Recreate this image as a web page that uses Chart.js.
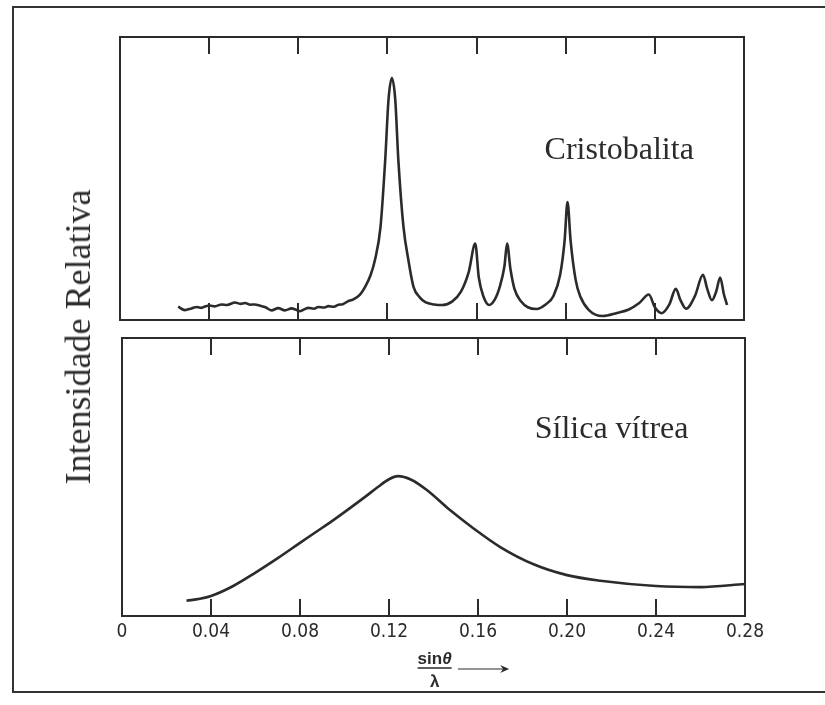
<!DOCTYPE html>
<html>
<head>
<meta charset="utf-8">
<script src="https://cdn.jsdelivr.net/npm/chart.js@4.4.1/dist/chart.umd.min.js"></script>
<style>
    html, body { margin: 0; padding: 0; background: #fff; }
    #page { position: relative; width: 825px; height: 705px; overflow: hidden; background: #fff; }
    #frame { position: absolute; left: 12px; top: 6px; width: 840px; height: 687px; border: 2px solid #333; box-sizing: border-box; }
    #topBox { position: absolute; left: 0; top: 0; width: 825px; height: 330px; }
    #bottomBox { position: absolute; left: 0; top: 330px; width: 825px; height: 375px; }
    #yTitle {
        position: absolute; left: 78px; top: 337px;
        transform: translate(-50%, -50%) rotate(-90deg);
        font-family: 'Liberation Serif', serif; font-size: 36px; color: #2b2b2b;
        white-space: nowrap;
    }
</style>
</head>
<body>
<div id="page">
    <div id="frame"></div>
    <div id="topBox"><canvas id="topChart" width="825" height="330"></canvas></div>
    <div id="bottomBox"><canvas id="bottomChart" width="825" height="375"></canvas></div>
    <div id="yTitle">Intensidade Relativa</div>
</div>
<script>
    // sin(theta)/lambda positions and relative intensity (0-100 of each panel height)
    const cristX = [0.0261, 0.0291, 0.0321, 0.0345, 0.0366, 0.0385, 0.0403, 0.0425, 0.0456, 0.0480,
        0.0516, 0.0540, 0.0561, 0.0585, 0.0605, 0.0630, 0.0650, 0.0680, 0.0710, 0.0740,
        0.0770, 0.0790, 0.0808, 0.0830, 0.0845, 0.0870, 0.0890, 0.0915, 0.0935, 0.0960,
        0.0980, 0.1000, 0.1020, 0.1047, 0.1077, 0.1100, 0.1125, 0.1144, 0.1169, 0.1190,
        0.1205, 0.1220, 0.1235, 0.1249, 0.1272, 0.1294, 0.1317, 0.1345, 0.1370, 0.1410,
        0.1445, 0.1490, 0.1530, 0.1565, 0.1594, 0.1610, 0.1630, 0.1657, 0.1680, 0.1705,
        0.1725, 0.1737, 0.1752, 0.1770, 0.1800, 0.1830, 0.1869, 0.1910, 0.1945, 0.1975,
        0.1995, 0.2008, 0.2022, 0.2045, 0.2066, 0.2104, 0.2166, 0.2230, 0.2283, 0.2330,
        0.2373, 0.2400, 0.2431, 0.2465, 0.2494, 0.2515, 0.2540, 0.2580, 0.2616, 0.2635,
        0.2656, 0.2675, 0.2693, 0.2710, 0.2724];
    const cristY = [4.7, 3.5, 4.1, 4.6, 4.3, 4.9, 5.1, 4.8, 5.5, 5.3,
        6.2, 5.7, 6.0, 5.4, 5.5, 5.0, 4.6, 3.4, 4.2, 3.4,
        4.1, 3.6, 3.1, 3.9, 4.3, 4.0, 4.6, 4.4, 4.9, 4.7,
        5.4, 5.6, 6.5, 7.3, 9.0, 11.7, 16, 21.2, 32.9, 56.5,
        78, 85.5, 78, 56.5, 32.9, 21.2, 11.7, 8, 6.3, 5.5,
        5.3, 6.5, 10, 17, 27, 15, 8.5, 5.3, 7, 12,
        19, 27, 18, 11, 6.5, 4.5, 3.9, 5.5, 8.5, 16,
        28, 41.7, 28, 14, 8.2, 3.5, 1.4, 2.5, 3.7, 6,
        9, 4.5, 2.4, 5.5, 11, 7, 4, 8.5, 16, 11,
        7, 10, 15, 9, 5.3];

    const vitreaX = [0.029, 0.035, 0.040, 0.050, 0.060, 0.070, 0.080, 0.0875, 0.095, 0.1026,
        0.110, 0.115, 0.120, 0.124, 0.130, 0.137, 0.1474, 0.158, 0.170,
        0.185, 0.200, 0.215, 0.240, 0.260, 0.280];
    const vitreaY = [5.5, 6.2, 7.2, 10.8, 15.6, 20.8, 26.3, 30.4, 34.5, 38.9,
        43.3, 46.4, 49.2, 50.3, 49.0, 45.3, 38.1, 31.5, 24.8,
        18.6, 14.7, 12.7, 10.8, 10.4, 11.5];

    const tickValues = [0, 0.04, 0.08, 0.12, 0.16, 0.20, 0.24, 0.28];
    const tickLabels = ['0', '0.04', '0.08', '0.12', '0.16', '0.20', '0.24', '0.28'];

    const ink = '#2b2b2b';

    const toPoints = (xs, ys) => xs.map((x, i) => ({x: x, y: ys[i]}));

    // box around the plot area plus inward ticks on top and bottom edges
    const panelFrame = {
        id: 'panelFrame',
        afterDraw(chart, args, opts) {
            const {ctx, chartArea} = chart;
            const xs = chart.scales.x;
            ctx.save();
            ctx.strokeStyle = ink;
            ctx.lineWidth = 2;
            ctx.strokeRect(chartArea.left, chartArea.top, chartArea.right - chartArea.left, chartArea.bottom - chartArea.top);
            tickValues.slice(1, -1).forEach(v => {
                const px = Math.round(xs.getPixelForValue(v));
                ctx.beginPath();
                ctx.moveTo(px, chartArea.top);
                ctx.lineTo(px, chartArea.top + 17);
                ctx.moveTo(px, chartArea.bottom);
                ctx.lineTo(px, chartArea.bottom - 17);
                ctx.stroke();
            });
            // sample name
            ctx.fillStyle = ink;
            ctx.font = '32px "Liberation Serif", serif';
            ctx.textBaseline = 'alphabetic';
            ctx.textAlign = 'left';
            ctx.fillText(opts.label, xs.getPixelForValue(opts.labelX), chart.scales.y.getPixelForValue(opts.labelY));

            if (opts.axisTitle) {
                const cx = xs.getPixelForValue(0.1405);
                const base = chartArea.bottom;
                ctx.font = 'bold 17px "Liberation Sans", sans-serif';
                ctx.textAlign = 'left';
                const w1 = ctx.measureText('sin').width;
                ctx.font = 'italic bold 17px "Liberation Sans", sans-serif';
                const w2 = ctx.measureText('θ').width;
                const left = cx - (w1 + w2) / 2;
                ctx.font = 'bold 17px "Liberation Sans", sans-serif';
                ctx.fillText('sin', left, base + 48);
                ctx.font = 'italic bold 17px "Liberation Sans", sans-serif';
                ctx.fillText('θ', left + w1, base + 48);
                ctx.lineWidth = 1.5;
                ctx.beginPath();
                ctx.moveTo(left, base + 52);
                ctx.lineTo(left + w1 + w2, base + 52);
                ctx.stroke();
                ctx.font = 'bold 17px "Liberation Sans", sans-serif';
                ctx.textAlign = 'center';
                ctx.fillText('λ', cx, base + 71);
                // arrow
                const ax0 = xs.getPixelForValue(0.151);
                const ax1 = xs.getPixelForValue(0.174);
                const ay = base + 53;
                ctx.lineWidth = 1.2;
                ctx.beginPath();
                ctx.moveTo(ax0, ay);
                ctx.lineTo(ax1 - 4, ay);
                ctx.stroke();
                ctx.beginPath();
                ctx.moveTo(ax1, ay);
                ctx.lineTo(ax1 - 9, ay - 4);
                ctx.lineTo(ax1 - 6, ay);
                ctx.lineTo(ax1 - 9, ay + 4);
                ctx.closePath();
                ctx.fill();
            }
            ctx.restore();
        }
    };

    function makeChart(canvasId, points, padding, showTicks, pluginOpts) {
        const xScale = {
            type: 'linear',
            min: 0,
            max: 0.28,
            display: showTicks,
            afterBuildTicks: s => { s.ticks = tickValues.map(v => ({value: v})); },
            grid: {display: false, drawTicks: false},
            border: {display: false},
            ticks: {
                padding: 5,
                color: ink,
                maxRotation: 0,
                autoSkip: false,
                font: {family: '"DejaVu Sans Condensed", "Liberation Sans", sans-serif', size: 19},
                callback: (v, i) => tickLabels[i]
            }
        };
        if (showTicks) {
            xScale.afterFit = s => { s.height = 40; };
        }
        return new Chart(document.getElementById(canvasId), {
            type: 'line',
            data: {
                datasets: [{
                    data: points,
                    borderColor: ink,
                    borderWidth: 2.6,
                    pointRadius: 0,
                    fill: false,
                    cubicInterpolationMode: 'monotone'
                }]
            },
            options: {
                responsive: false,
                animation: false,
                events: [],
                layout: {padding: padding},
                plugins: {
                    legend: {display: false},
                    tooltip: {enabled: false},
                    panelFrame: pluginOpts
                },
                scales: {
                    x: xScale,
                    y: {min: 0, max: 100, display: false}
                }
            },
            plugins: [panelFrame]
        });
    }

    makeChart('topChart', toPoints(cristX, cristY),
        {left: 120, top: 37, right: 81, bottom: 10}, false,
        {label: 'Cristobalita', labelX: 0.1905, labelY: 57});

    makeChart('bottomChart', toPoints(vitreaX, vitreaY),
        {left: 122, top: 8, right: 80, bottom: 49}, true,
        {label: 'Sílica vítrea', labelX: 0.1855, labelY: 64, axisTitle: true});
</script>
</body>
</html>
